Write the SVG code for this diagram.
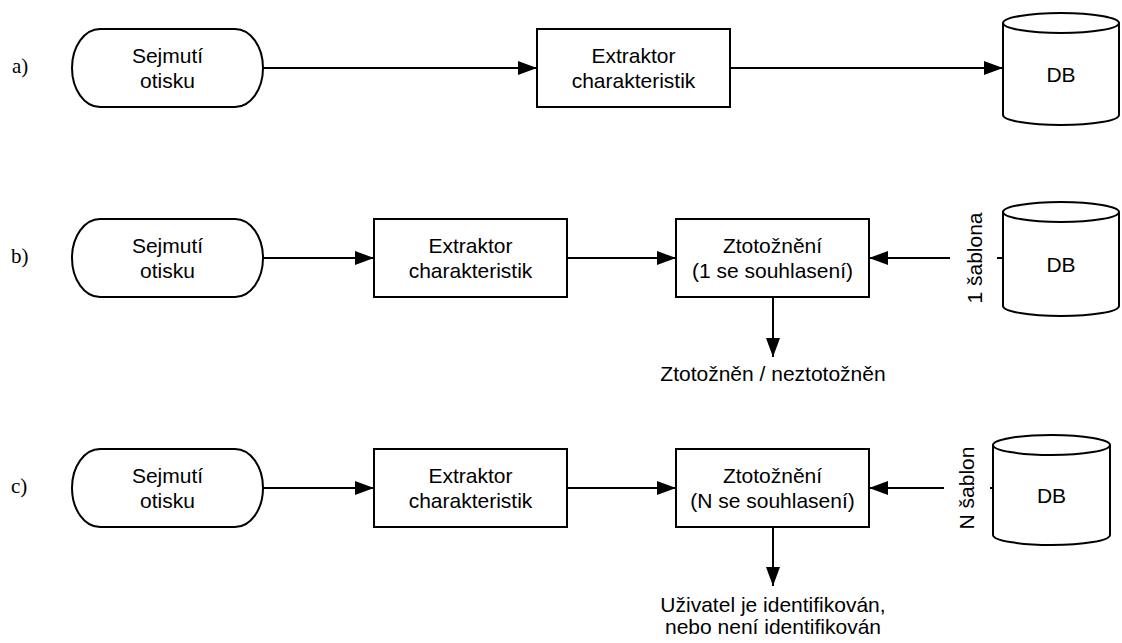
<svg xmlns="http://www.w3.org/2000/svg" width="1122" height="643" viewBox="0 0 1122 643">
<style>
.shape{fill:#fff;stroke:#000;stroke-width:2}
.t{font-family:"Liberation Sans",Arial,sans-serif;font-size:21px;fill:#000;text-anchor:middle}
.lab{font-family:"Liberation Serif","Times New Roman",serif;font-size:21px;fill:#000}
.conn{fill:none;stroke:#000;stroke-width:2}
</style>
<defs>
<marker id="arr" markerUnits="userSpaceOnUse" markerWidth="20" markerHeight="16" refX="19" refY="7" orient="auto">
<path d="M0,0 L19,7 L0,14 z" fill="#000"/>
</marker>
</defs>
<rect width="1122" height="643" fill="#fff"/>

<g id="labels">
<text class="lab" x="12" y="73">a)</text>
<text class="lab" x="11" y="263">b)</text>
<text class="lab" x="11" y="493">c)</text>
</g>

<g id="connectors">
<line class="conn" x1="263" y1="68" x2="537" y2="68" marker-end="url(#arr)"/>
<line class="conn" x1="730" y1="68" x2="1003" y2="68" marker-end="url(#arr)"/>
<line class="conn" x1="263" y1="258" x2="374" y2="258" marker-end="url(#arr)"/>
<line class="conn" x1="567" y1="258" x2="676" y2="258" marker-end="url(#arr)"/>
<line class="conn" x1="950" y1="258" x2="869" y2="258" marker-end="url(#arr)"/>
<line class="conn" x1="997" y1="258" x2="1003" y2="258"/>
<line class="conn" x1="773" y1="297" x2="773" y2="357" marker-end="url(#arr)"/>
<line class="conn" x1="263" y1="488" x2="374" y2="488" marker-end="url(#arr)"/>
<line class="conn" x1="567" y1="488" x2="676" y2="488" marker-end="url(#arr)"/>
<line class="conn" x1="944" y1="488" x2="869" y2="488" marker-end="url(#arr)"/>
<line class="conn" x1="990" y1="488" x2="993" y2="488"/>
<line class="conn" x1="773" y1="527" x2="773" y2="586" marker-end="url(#arr)"/>
<text class="t" transform="translate(982,258) rotate(-90)">1 šablona</text>
<text class="t" transform="translate(974,488) rotate(-90)">N šablon</text>
<text class="t" x="773" y="381">Ztotožněn / neztotožněn</text>
<text class="t" x="773" y="612">Uživatel je identifikován,</text>
<text class="t" x="773" y="634">nebo není identifikován</text>
</g>

<g id="a-sejmuti">
<rect class="shape" x="72" y="29" width="191" height="78" rx="28" ry="39"/>
<text class="t" x="167.5" y="63">Sejmutí</text>
<text class="t" x="167.5" y="88">otisku</text>
</g>
<g id="a-extraktor">
<rect class="shape" x="537" y="29" width="193" height="78"/>
<text class="t" x="633.5" y="63">Extraktor</text>
<text class="t" x="633.5" y="88">charakteristik</text>
</g>
<g id="a-db">
<path class="shape" d="M1003,23 L1003,115 A58,10 0 0 0 1119,115 L1119,23"/>
<ellipse class="shape" cx="1061" cy="23" rx="58" ry="10"/>
<text class="t" x="1061" y="82">DB</text>
</g>

<g id="b-sejmuti">
<rect class="shape" x="72" y="219" width="191" height="78" rx="28" ry="39"/>
<text class="t" x="167.5" y="253">Sejmutí</text>
<text class="t" x="167.5" y="278">otisku</text>
</g>
<g id="b-extraktor">
<rect class="shape" x="374" y="219" width="193" height="78"/>
<text class="t" x="470.5" y="253">Extraktor</text>
<text class="t" x="470.5" y="278">charakteristik</text>
</g>
<g id="b-ztotozneni">
<rect class="shape" x="676" y="219" width="193" height="78"/>
<text class="t" x="772.5" y="253">Ztotožnění</text>
<text class="t" x="772.5" y="278">(1 se souhlasení)</text>
</g>
<g id="b-db">
<path class="shape" d="M1003,212 L1003,306 A58,10 0 0 0 1119,306 L1119,212"/>
<ellipse class="shape" cx="1061" cy="212" rx="58" ry="10"/>
<text class="t" x="1061" y="272">DB</text>
</g>

<g id="c-sejmuti">
<rect class="shape" x="72" y="449" width="191" height="78" rx="28" ry="39"/>
<text class="t" x="167.5" y="483">Sejmutí</text>
<text class="t" x="167.5" y="508">otisku</text>
</g>
<g id="c-extraktor">
<rect class="shape" x="374" y="449" width="193" height="78"/>
<text class="t" x="470.5" y="483">Extraktor</text>
<text class="t" x="470.5" y="508">charakteristik</text>
</g>
<g id="c-ztotozneni">
<rect class="shape" x="676" y="449" width="193" height="78"/>
<text class="t" x="772.5" y="483">Ztotožnění</text>
<text class="t" x="772.5" y="508">(N se souhlasení)</text>
</g>
<g id="c-db">
<path class="shape" d="M993,445 L993,535 A58.5,10 0 0 0 1110,535 L1110,445"/>
<ellipse class="shape" cx="1051.5" cy="445" rx="58.5" ry="10"/>
<text class="t" x="1051.5" y="503">DB</text>
</g>
</svg>
